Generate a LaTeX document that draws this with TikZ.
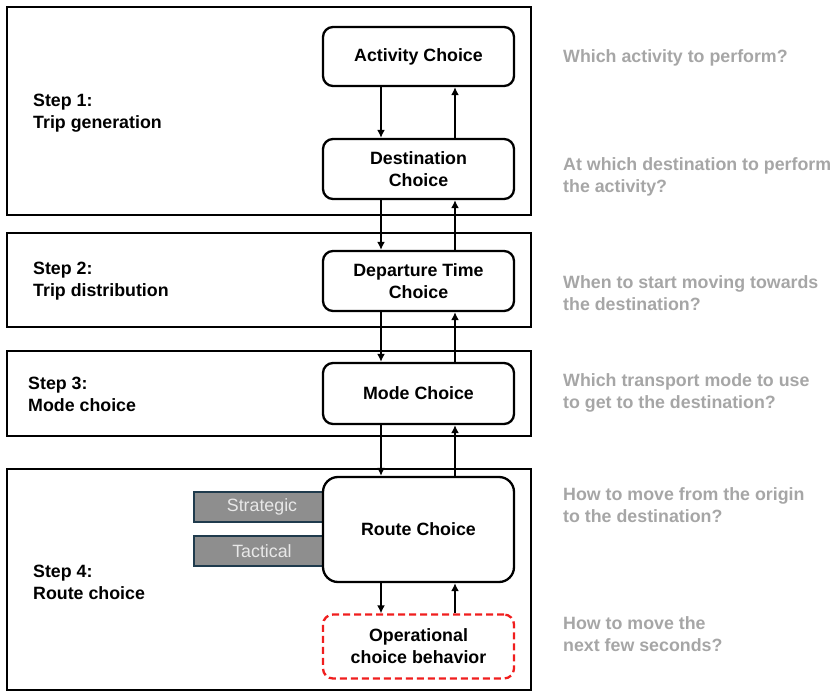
\documentclass[tikz,border=0pt]{standalone}
\usepackage{fontspec}
\setmainfont{Liberation Sans}
\usetikzlibrary{arrows.meta}
\definecolor{qgray}{HTML}{A6A6A6}
\definecolor{tagfill}{HTML}{8E8E8E}
\definecolor{tagline}{HTML}{1F3B4D}
\definecolor{tagtext}{HTML}{E8E8E8}
\definecolor{opred}{HTML}{F01E1E}
\begin{document}
\begin{tikzpicture}[x=1pt,y=-1pt,
  txt/.style={font=\fontsize{17.8}{22}\selectfont\bfseries},
  stepframe/.style={draw, line width=2.2pt, minimum width=524pt, inner sep=0pt},
  choice/.style={draw, fill=white, line width=2.3pt, rounded corners=10pt, minimum width=191pt, align=center, inner sep=0pt, txt},
  opbox/.style={choice, draw=opred, dashed, dash pattern=on 7pt off 4pt},
  tag/.style={draw=tagline, fill=tagfill, line width=1.8pt, minimum width=136pt, minimum height=30pt, inner sep=0pt, text=tagtext, font=\fontsize{17.8}{22}\selectfont},
  steplabel/.style={anchor=west, align=left, inner sep=0pt, txt},
  question/.style={anchor=west, align=left, inner sep=0pt, text=qgray, txt},
  arr/.style={line width=2.4pt, -{Latex[length=8pt,width=8pt]}}
]
\useasboundingbox (0,0) rectangle (836,693);

% step frames
\node[stepframe, minimum height=208pt] (s1) at (269,111) {};
\node[stepframe, minimum height=94pt] (s2) at (269,280) {};
\node[stepframe, minimum height=85pt] (s3) at (269,393.5) {};
\node[stepframe, minimum height=221pt] (s4) at (269,579.5) {};

% tags behind route choice
\node[tag] (strat) at (262,507) {Strategic};
\node[tag] (tact) at (262,551) {Tactical};

% choice boxes
\node[choice, minimum height=59pt] (act) at (418.5,56.5) {Activity Choice};
\node[choice, minimum height=60pt] (dest) at (418.5,169) {Destination\\Choice};
\node[choice, minimum height=60pt] (dep) at (418.5,281) {Departure Time\\Choice};
\node[choice, minimum height=61pt] (mode) at (418.5,393.5) {Mode Choice};
\node[choice, rounded corners=15pt, minimum height=105pt] (route) at (418.5,529.5) {Route Choice};
\node[opbox, minimum height=64pt] (oper) at (418.5,646.5) {Operational\\choice behavior};

% arrows
\foreach \a/\b in {act/dest, dest/dep, dep/mode, mode/route, route/oper}{
  \draw[arr] ([xshift=-37.5pt]\a.south) -- ([xshift=-37.5pt]\b.north);
  \draw[arr] ([xshift=36.5pt]\b.north) -- ([xshift=36.5pt]\a.south);
}

% step labels
\node[steplabel] (l1) at (33,113.5) {Step 1:\\Trip generation};
\node[steplabel] (l2) at (33,281) {Step 2:\\Trip distribution};
\node[steplabel] (l3) at (28,394) {Step 3:\\Mode choice};
\node[steplabel] (l4) at (33,582) {Step 4:\\Route choice};

% questions
\node[question] (q1) at (563,58) {Which activity to perform?};
\node[question] (q2) at (563,177) {At which destination to perform\\the activity?};
\node[question] (q3) at (563,293.5) {When to start moving towards\\the destination?};
\node[question] (q4) at (563,393) {Which transport mode to use\\to get to the destination?};
\node[question] (q5) at (563,505.5) {How to move from the origin\\to the destination?};
\node[question] (q6) at (563,634) {How to move the\\next few seconds?};
\end{tikzpicture}
\end{document}
